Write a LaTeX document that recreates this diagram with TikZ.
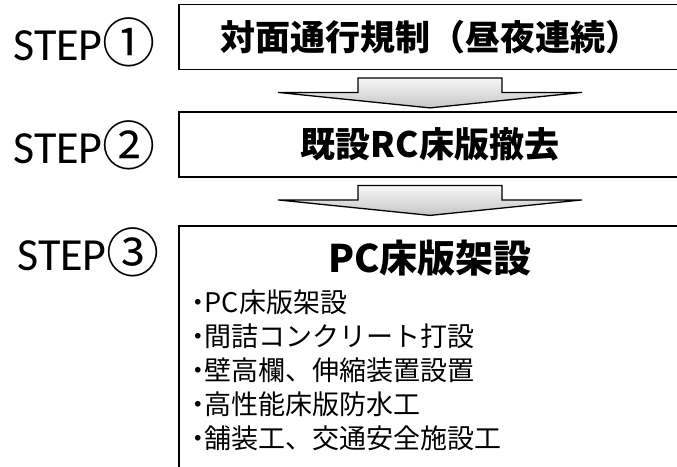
\documentclass[tikz,border=0pt]{standalone}
\usepackage{fontspec}
\setmainfont{Carlito}
\newfontfamily\cjk{Noto Sans CJK JP}
\usetikzlibrary{positioning}

\begin{document}
\begin{tikzpicture}[x=1pt,y=-1pt,
    stepbox/.style={draw,line width=1.8pt,minimum width=502pt,inner sep=0pt},
    steplabel/.style={anchor=base west,inner sep=0pt,font=\fontsize{46}{46}\selectfont},
    flowarrow/.style={draw,line width=1.3pt,line join=miter,top color=gray!6,bottom color=gray!45},
    listitem/.style={anchor=west,inner sep=0pt,font=\cjk\fontsize{27}{27}\selectfont}]
    \useasboundingbox (0,0) rectangle (677,466);

    \node[stepbox,minimum height=65pt] (box1) at (430,37) {\cjk\bfseries\fontsize{35}{35}\selectfont 対面通行規制（昼夜連続）};
    \node[stepbox,minimum height=65pt] (box2) at (430,144.5) {\cjk\bfseries\fontsize{35}{35}\selectfont 既設RC床版撤去};
    \node[stepbox,minimum height=264pt] (box3) at (430,358) {};

    \node[steplabel] (step1) at (13,60) {STEP{\cjk\fontsize{53}{53}\selectfont\raisebox{-2pt}{①}}};
    \node[steplabel] (step2) at (13,163) {STEP{\cjk\fontsize{53}{53}\selectfont\raisebox{-2pt}{②}}};
    \node[steplabel] (step3) at (17,270) {STEP{\cjk\fontsize{53}{53}\selectfont\raisebox{-2pt}{③}}};

    % arrows between the steps
    \foreach \b in {box1,box2}
        \draw[flowarrow,shift={(\b.south)}] (-72,7.5) -- (-72,22) -- (-152,22) -- (0,37.5)
            -- (152,22) -- (72,22) -- (72,7.5) -- cycle;

    \node[inner sep=0pt,font=\cjk\bfseries\fontsize{38}{38}\selectfont] (title3) at (430,258) {PC床版架設};
    \foreach \txt [count=\i] in {PC床版架設,間詰コンクリート打設,壁高欄、伸縮装置設置,高性能床版防水工,舗装工、交通安全施設工}
        \node[listitem] (item\i) at (191,{268+34*\i}) {{\bfseries ･}\txt};
\end{tikzpicture}
\end{document}
